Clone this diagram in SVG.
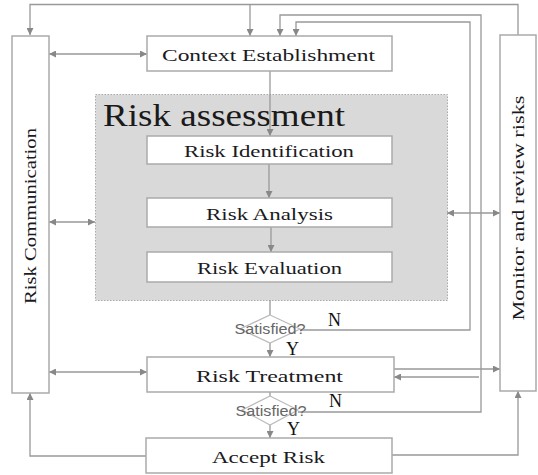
<svg xmlns="http://www.w3.org/2000/svg" width="538" height="475" viewBox="0 0 538 475">
<defs>
<marker id="ah" viewBox="0 0 10 10" refX="10" refY="5" markerWidth="7" markerHeight="7" markerUnits="userSpaceOnUse" orient="auto-start-reverse">
<path d="M0,0 L10,5 L0,10 z" fill="#888"/>
</marker>
<style>
.box{fill:#fff;stroke:#aaa;stroke-width:1.5}
.ln{fill:none;stroke:#999;stroke-width:1.3}
.t{font-family:"Liberation Serif","Times New Roman",serif;font-size:17px;fill:#1a1a22;text-anchor:middle}
.q{font-family:"Liberation Sans",Arial,sans-serif;font-size:14px;fill:#666;text-anchor:middle}
.yn{font-family:"Liberation Serif","Times New Roman",serif;font-size:18px;fill:#111}
.dia{fill:#fff;stroke:#bbb;stroke-width:1.2}
</style>
</defs>
<rect width="538" height="475" fill="#fff"/>

<g id="risk-assessment">
<rect x="95.5" y="94.5" width="352" height="206" fill="#d9d9d9" stroke="#aaa" stroke-width="1" stroke-dasharray="1.5,1.5"/>
<text x="103" y="126" style="font-family:'Liberation Serif','Times New Roman',serif;font-size:31px;fill:#1a1a1a" textLength="242" lengthAdjust="spacingAndGlyphs">Risk assessment</text>
</g>

<g id="connectors">
<path class="ln" d="M518,35 V4.5 H30 V35" marker-end="url(#ah)"/>
<path class="ln" d="M250,4.5 V36" marker-end="url(#ah)"/>
<path class="ln" d="M298,412 H481 V15 H280 V36" marker-end="url(#ah)"/>
<path class="ln" d="M300,330 H470 V22 H296 V36" marker-end="url(#ah)"/>
<path class="ln" d="M270,71 V136" marker-end="url(#ah)"/>
<path class="ln" d="M269,164 V198" marker-end="url(#ah)"/>
<path class="ln" d="M271,227 V252" marker-end="url(#ah)"/>
<path class="ln" d="M270,300 V315"/>
<path class="ln" d="M270,343 V357" marker-end="url(#ah)"/>
<path class="ln" d="M270,392 V396"/>
<path class="ln" d="M270,425 V438" marker-end="url(#ah)"/>
<path class="ln" d="M49,54 H147" marker-start="url(#ah)" marker-end="url(#ah)"/>
<path class="ln" d="M49,222 H95" marker-start="url(#ah)" marker-end="url(#ah)"/>
<path class="ln" d="M49,372 H147" marker-start="url(#ah)" marker-end="url(#ah)"/>
<path class="ln" d="M447,213 H500" marker-start="url(#ah)" marker-end="url(#ah)"/>
<path class="ln" d="M394,369 H500" marker-end="url(#ah)"/>
<path class="ln" d="M479,377 H394" marker-end="url(#ah)"/>
<path class="ln" d="M146,456 H30 V393" marker-end="url(#ah)"/>
<path class="ln" d="M392,455 H518 V391" marker-end="url(#ah)"/>
</g>

<g id="risk-communication">
<rect class="box" x="12" y="36" width="37" height="357"/>
<text class="t" transform="translate(36,216) rotate(-90)" textLength="176" lengthAdjust="spacingAndGlyphs">Risk Communication</text>
</g>

<g id="monitor-review">
<rect class="box" x="500" y="35" width="36" height="356"/>
<text class="t" transform="translate(524,208) rotate(-90)" textLength="225" lengthAdjust="spacingAndGlyphs">Monitor and review risks</text>
</g>

<g id="context-establishment">
<rect class="box" x="147" y="36" width="245" height="35"/>
<text class="t" x="268.5" y="61" textLength="213" lengthAdjust="spacingAndGlyphs">Context Establishment</text>
</g>

<g id="risk-identification">
<rect class="box" x="147" y="136" width="245" height="28"/>
<text class="t" x="269" y="157" textLength="170" lengthAdjust="spacingAndGlyphs">Risk Identification</text>
</g>

<g id="risk-analysis">
<rect class="box" x="147" y="198" width="245" height="29"/>
<text class="t" x="269.5" y="220" textLength="127" lengthAdjust="spacingAndGlyphs">Risk Analysis</text>
</g>

<g id="risk-evaluation">
<rect class="box" x="147" y="252" width="245" height="30"/>
<text class="t" x="269.5" y="274" textLength="145" lengthAdjust="spacingAndGlyphs">Risk Evaluation</text>
</g>

<g id="decision-1">
<polygon class="dia" points="270,315 300,329 270,343 240,329"/>
<text class="q" x="270" y="334" textLength="71" lengthAdjust="spacingAndGlyphs">Satisfied?</text>
<text class="yn" x="328" y="326">N</text>
<text class="yn" x="286" y="355">Y</text>
</g>

<g id="risk-treatment">
<rect class="box" x="147" y="357" width="247" height="35"/>
<text class="t" x="269.5" y="382" textLength="147" lengthAdjust="spacingAndGlyphs">Risk Treatment</text>
</g>

<g id="decision-2">
<polygon class="dia" points="270,396 298,410 270,425 242,410"/>
<text class="q" x="271" y="416" textLength="71" lengthAdjust="spacingAndGlyphs">Satisfied?</text>
<text class="yn" x="329" y="407">N</text>
<text class="yn" x="287" y="435">Y</text>
</g>

<g id="accept-risk">
<rect class="box" x="146" y="438" width="246" height="35"/>
<text class="t" x="268.5" y="463" textLength="113" lengthAdjust="spacingAndGlyphs">Accept Risk</text>
</g>
</svg>
